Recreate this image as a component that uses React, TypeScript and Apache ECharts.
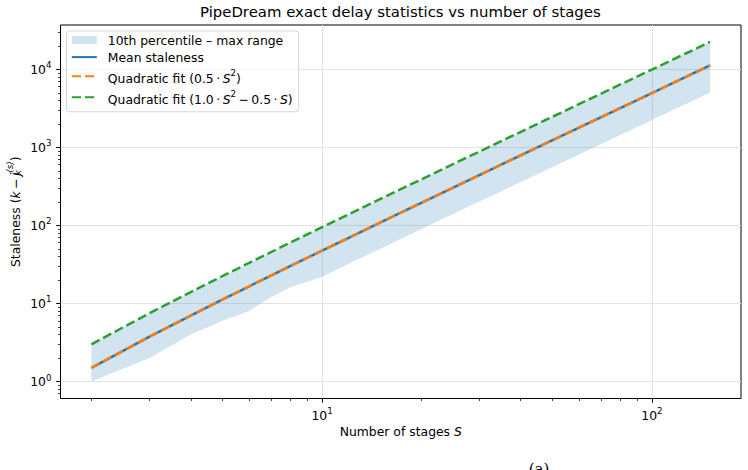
import React, { useEffect, useRef } from 'react';
import * as echarts from 'echarts';

// ---- data ----
const stages = [2, 3, 4, 5, 6, 7, 8, 10, 12, 16, 24, 32, 48, 64, 96, 128, 150];
const p10Staleness = [1, 2, 4, 6, 8, 12, 16, 22, 32, 57, 130, 230, 518, 922, 2074, 3686, 5060];
const maxStaleness = [3, 7.5, 14, 22.5, 33, 45.5, 60, 95, 138, 248, 564, 1008, 2280, 4064, 9168, 16320, 22425];
const meanStaleness = [1.5, 3.75, 7, 11.25, 16.5, 22.75, 30, 47.5, 69, 124, 282, 504, 1140, 2032, 4584, 8160, 11213];
const fitHalf = [1.5, 3.75, 7, 11.25, 16.5, 22.75, 30, 47.5, 69, 124, 282, 504, 1140, 2032, 4584, 8160, 11213];
const fitFull = [3, 7.5, 14, 22.5, 33, 45.5, 60, 95, 138, 248, 564, 1008, 2280, 4064, 9168, 16320, 22425];

const xMajorTicks = [10, 100];
const xMinorTicks = [2, 3, 4, 5, 6, 7, 8, 9, 20, 30, 40, 50, 60, 70, 80, 90];
const yMajorTicks = [1, 10, 100, 1000, 10000];
const yMinorTicks = [0.7, 0.8, 0.9, 2, 3, 4, 5, 6, 7, 8, 9, 20, 30, 40, 50, 60, 70, 80, 90,
  200, 300, 400, 500, 600, 700, 800, 900, 2000, 3000, 4000, 5000, 6000, 7000, 8000, 9000, 20000, 30000];

const titleText = 'PipeDream exact delay statistics vs number of stages';

const FONT = 'DejaVu Sans';
const BLUE = '#1f77b4';
const ORANGE = '#ff7f0e';
const GREEN = '#2ca02c';
const BAND = 'rgba(31,119,180,0.2)';

const base = { fontFamily: FONT, fontSize: 12.4, color: '#000', lineHeight: 14 };
const sup = { fontFamily: FONT, fontSize: 8.7, color: '#000', lineHeight: 10 };
const lgBase = { fontFamily: FONT, fontSize: 12.4, color: '#000' };
const lgSup = { fontFamily: FONT, fontSize: 8.7, color: '#000' };
const rich: any = {
  t: { ...base },
  i: { ...base, fontStyle: 'italic' },
  s: { ...sup, padding: [0, 0, 8, 0] },
  si: { ...sup, padding: [0, 0, 10, 0], fontStyle: 'italic' },
  b: { ...sup, padding: [6, 0, 0, 0], fontStyle: 'italic', width: 0 },
  // legend tokens
  tp: { ...lgBase, padding: [0.85, 0, 0.85, 6] },
  mp: { ...lgBase, padding: [4.5, 0, 0.5, 6] },
  m: { ...lgBase, padding: [4.5, 0, 0.5, 0] },
  mi: { ...lgBase, padding: [4.5, 0, 0.5, 0], fontStyle: 'italic' },
  ms: { ...lgSup, padding: [0, 0, 7, 0] },
};

const legendLabels: Record<string, string> = {
  band: '{tp|10th percentile \u2013 max range}',
  mean: '{tp|Mean staleness}',
  fitA: '{mp|Quadratic fit (0.5\u2009\u00b7\u2009}{mi|S}{ms|2}{m|)}',
  fitB: '{mp|Quadratic fit (1.0\u2009\u00b7\u2009}{mi|S}{ms|2}{m|\u2009\u2212\u20090.5\u2009\u00b7\u2009}{mi|S}{m|)}',
};

export default function App() {
  const ref = useRef<HTMLDivElement>(null);

  useEffect(() => {
    document.body.style.margin = '0';
    const chart = echarts.init(ref.current!, null, { renderer: 'svg' });
    const lg = (v: number) => Math.log10(v);

    const xs = stages.map(lg);
    const xLo = Math.min(...xs);
    const xHi = Math.max(...xs);
    const xPad = (xHi - xLo) * 0.05;
    const ysAll = [...p10Staleness, ...maxStaleness, ...meanStaleness, ...fitHalf, ...fitFull].map(lg);
    const yLo = Math.min(...ysAll);
    const yHi = Math.max(...ysAll);
    const yPad = (yHi - yLo) * 0.05;
    const xMin = xLo - xPad, xMax = xHi + xPad, yMin = yLo - yPad, yMax = yHi + yPad;

    const pts = (arr: number[]) => stages.map((s, k) => [lg(s), lg(arr[k])]);
    const bandData = stages.map((s, k) => [lg(s), lg(p10Staleness[k]), lg(maxStaleness[k])]);

    const supLabel = (v: number) => '{t|10}{s|' + Math.round(v) + '}';

    const majorAxisCommon = {
      type: 'value',
      axisLine: { show: false, onZero: false },
      axisTick: { show: true, length: 4.3, lineStyle: { color: '#000', width: 1 } },
      splitLine: { show: true, lineStyle: { color: '#e3e3e3', width: 1 } },
      nameMoveOverlap: false,
    };
    const minorAxisCommon = {
      type: 'value',
      axisLine: { show: false, onZero: false },
      axisLabel: { show: false },
      splitLine: { show: false },
    };

    chart.setOption({
      animation: false,
      title: {
        text: titleText,
        left: 200,
        top: 3,
        padding: 0,
        textStyle: { fontFamily: FONT, fontSize: 14.9, fontWeight: 'normal', color: '#000', lineHeight: 18 },
      },
      grid: {
        left: 60.5, right: 7, top: 25, bottom: 71.5,
        containLabel: false,
        outerBoundsMode: 'none',
        show: true, borderColor: '#000', borderWidth: 1, backgroundColor: 'transparent',
      },
      legend: {
        orient: 'vertical',
        left: 66.5,
        top: 31,
        align: 'left',
        padding: [3, 6, 6.5, 4.3],
        itemGap: 5.1,
        itemWidth: 25,
        itemHeight: 8,
        borderColor: '#d5d5d5',
        borderWidth: 1,
        borderRadius: 3,
        backgroundColor: 'rgba(255,255,255,0.8)',
        selectedMode: false,
        data: [
          { name: 'band', icon: 'rect', itemStyle: { color: BAND, borderWidth: 0 } },
          { name: 'mean', itemStyle: { opacity: 0 } },
          { name: 'fitA', itemStyle: { opacity: 0 } },
          { name: 'fitB', itemStyle: { opacity: 0 } },
        ],
        formatter: (name: string) => legendLabels[name] || name,
        textStyle: { fontFamily: FONT, fontSize: 12.4, color: '#000', rich },
      },
      xAxis: [
        {
          ...majorAxisCommon,
          position: 'bottom',
          min: xMin, max: xMax,
          axisTick: { ...majorAxisCommon.axisTick, customValues: xMajorTicks.map(lg) },
          axisLabel: {
            customValues: xMajorTicks.map(lg),
            margin: 9.5,
            formatter: supLabel,
            rich,
          },
          name: '{t|Number of stages }{i|S}',
          nameLocation: 'middle',
          nameGap: 26,
          nameTextStyle: { rich },
        },
        {
          ...minorAxisCommon,
          position: 'bottom',
          min: xMin, max: xMax,
          axisTick: { show: true, length: 2.5, customValues: xMinorTicks.map(lg), lineStyle: { color: '#000', width: 0.75 } },
        },
      ],
      yAxis: [
        {
          ...majorAxisCommon,
          position: 'left',
          min: yMin, max: yMax,
          axisTick: { ...majorAxisCommon.axisTick, customValues: yMajorTicks.map(lg) },
          axisLabel: {
            customValues: yMajorTicks.map(lg),
            margin: 9,
            formatter: supLabel,
            rich,
          },
          name: '{t|Staleness (}{i|k}{t|\u2009\u2212\u2009}{i|j}{b|k}{si|(s)}{t|)}',
          nameLocation: 'middle',
          nameGap: 38.5,
          nameTextStyle: { rich },
        },
        {
          ...minorAxisCommon,
          position: 'left',
          min: yMin, max: yMax,
          axisTick: { show: true, length: 2.5, customValues: yMinorTicks.map(lg), lineStyle: { color: '#000', width: 0.75 } },
        },
      ],
      series: [
        {
          name: 'band',
          type: 'custom',
          data: bandData,
          encode: { x: 0, y: [1, 2] },
          itemStyle: { color: BAND },
          silent: true,
          renderItem: (params: any, api: any) => {
            if (params.dataIndex !== 0) return null;
            const upper = bandData.map((d) => api.coord([d[0], d[2]]));
            const lower = bandData.map((d) => api.coord([d[0], d[1]])).reverse();
            return {
              type: 'polygon',
              shape: { points: upper.concat(lower) },
              style: { fill: BAND, stroke: 'none' },
            };
          },
        },
        {
          name: 'mean',
          type: 'line',
          data: pts(meanStaleness),
          symbol: 'none',
          itemStyle: { color: BLUE },
          lineStyle: { color: BLUE, width: 2.5 },
        },
        {
          name: 'fitA',
          type: 'line',
          data: pts(fitHalf),
          symbol: 'none',
          itemStyle: { color: ORANGE },
          lineStyle: { color: ORANGE, width: 2.5, type: [9.2, 4] },
        },
        {
          name: 'fitB',
          type: 'line',
          data: pts(fitFull),
          symbol: 'none',
          itemStyle: { color: GREEN },
          lineStyle: { color: GREEN, width: 2.5, type: [9.2, 4] },
        },
      ],
      graphic: [
        {
          type: 'text',
          x: 539,
          y: 461.5,
          style: {
            text: '(a)',
            fontFamily: 'DejaVu Serif',
            fontSize: 15,
            fill: '#000',
            align: 'center',
            verticalAlign: 'top',
          },
        },
      ],
    });

    return () => chart.dispose();
  }, []);

  return (
    <div
      ref={ref}
      style={{ position: 'fixed', left: 0, top: 0, width: 748, height: 470, background: '#fff' }}
    />
  );
}
